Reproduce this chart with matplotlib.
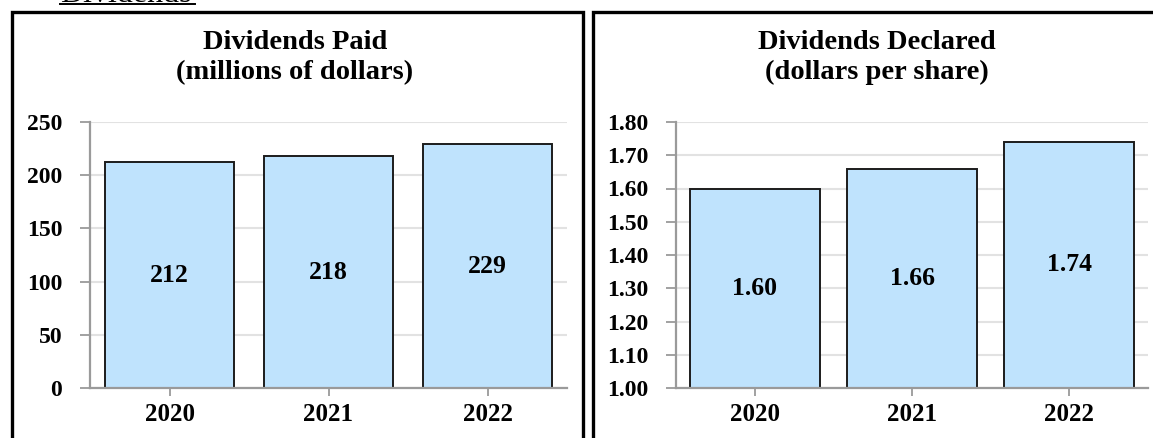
import matplotlib.pyplot as plt
from matplotlib.patches import Rectangle
from matplotlib.lines import Line2D
import numpy as np

years = ["2020", "2021", "2022"]
paid = [212, 218, 229]
declared = [1.60, 1.66, 1.74]

W, H = 1153, 438
FONT = "Liberation Serif"
BAR_FILL = "#bfe3fd"
BAR_EDGE = "#1c1c1c"
GRID = "#e2e2e2"
AXIS = "#9a9a9a"

plt.rcParams['font.family'] = [FONT, 'DejaVu Serif']
plt.rcParams['font.weight'] = 'bold'

fig = plt.figure(figsize=(W / 100, H / 100), dpi=100)


def fx(px):
    return px / W


def fy(py):
    # py measured from the top of the image
    return 1 - py / H


def make_axes(left, right, top, bottom):
    return fig.add_axes([fx(left), fy(bottom), fx(right - left), (bottom - top) / H])


def style(ax, ylo, yhi, step, fmt):
    ax.set_xlim(-0.5, 2.5)
    ax.set_ylim(ylo, yhi)
    ticks = np.arange(ylo, yhi + step / 2, step)
    ax.set_yticks(ticks)
    ax.set_yticklabels([fmt.format(v) for v in ticks])
    ax.set_xticks(range(len(years)))
    ax.set_xticklabels(years)
    for s in ["top", "right"]:
        ax.spines[s].set_visible(False)
    for s in ["left", "bottom"]:
        ax.spines[s].set_color(AXIS)
        ax.spines[s].set_linewidth(1.6)
    ax.grid(axis="y", color=GRID, linewidth=1.5)
    ax.set_axisbelow(True)
    ax.tick_params(axis="y", length=7, width=1.3, color=AXIS, pad=13, labelsize=17)
    ax.tick_params(axis="x", length=6, width=1.3, color=AXIS, pad=5, labelsize=18)
    for t in ax.get_xticklabels() + ax.get_yticklabels():
        t.set_fontweight("bold")


# left panel - dividends paid
ax1 = make_axes(90, 567, 122, 388)
x = np.arange(len(years))
ax1.bar(x, paid, width=0.815, color=BAR_FILL, edgecolor=BAR_EDGE, linewidth=1.4, zorder=2)
style(ax1, 0, 250, 50, "{:.0f}")
for xi, v in zip(x, paid):
    ax1.text(xi, v / 2, str(v), ha="center", va="center", fontsize=18.5, fontweight="bold", zorder=3)

# right panel - dividends declared
ax2 = make_axes(676, 1148, 122, 388)
base = 1.0
ax2.bar(x, [v - base for v in declared], bottom=base, width=0.825, color=BAR_FILL,
        edgecolor=BAR_EDGE, linewidth=1.4, zorder=2)
style(ax2, 1.0, 1.8, 0.1, "{:.2f}")
for xi, v in zip(x, declared):
    ax2.text(xi, (base + v) / 2, "{:.2f}".format(v), ha="center", va="center",
             fontsize=18.5, fontweight="bold", zorder=3)

# titles
for cx, l1, l2 in [(295, "Dividends Paid", "(millions of dollars)"),
                   (877, "Dividends Declared", "(dollars per share)")]:
    fig.text(fx(cx), fy(49), l1, ha="center", va="baseline", fontsize=20.5, fontweight="bold")
    fig.text(fx(cx), fy(79), l2, ha="center", va="baseline", fontsize=20.5, fontweight="bold")

# panel borders (bottom / right run off the picture)
for x0, x1 in [(12, 583), (593, 1180)]:
    fig.add_artist(Rectangle((fx(x0), fy(460)), fx(x1 - x0), (460 - 12) / H,
                             transform=fig.transFigure, fill=False,
                             edgecolor="black", linewidth=2.4))

# cut-off section heading at the very top
fig.text(fx(60), fy(1.5), "Dividends", ha="left", va="baseline", fontsize=23,
         fontweight="normal")
fig.add_artist(Line2D([fx(60), fx(195)], [fy(3.5), fy(3.5)], transform=fig.transFigure,
                      color="black", linewidth=1.4))

fig.savefig("out.png", dpi=100)
